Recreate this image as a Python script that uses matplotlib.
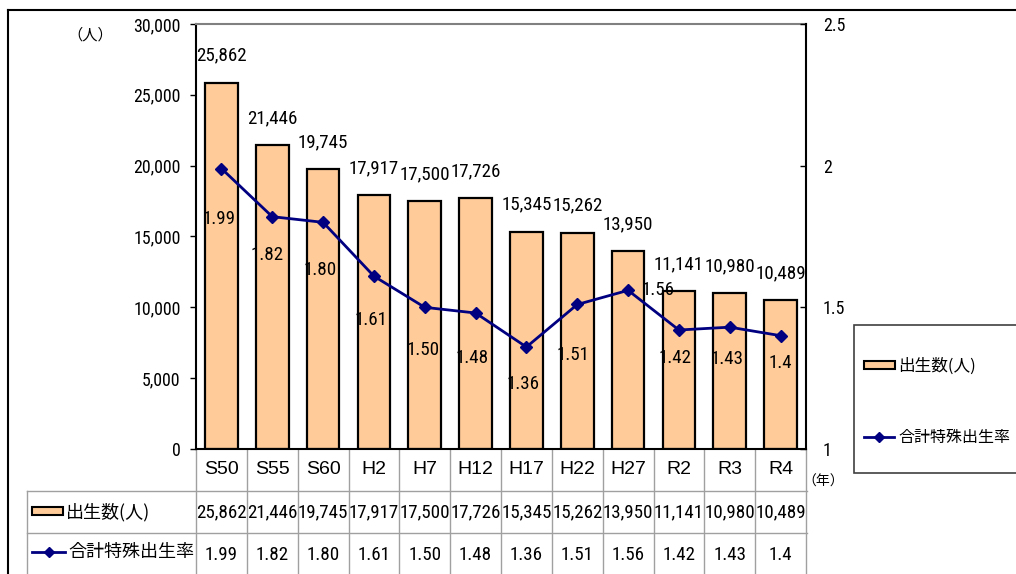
import matplotlib
matplotlib.use('Agg')
import matplotlib.pyplot as plt
from matplotlib import font_manager as fm
from matplotlib.font_manager import FontProperties
from matplotlib.transforms import blended_transform_factory
from matplotlib.patches import Rectangle

# ---- data ----
categories = ['S50', 'S55', 'S60', 'H2', 'H7', 'H12', 'H17', 'H22', 'H27', 'R2', 'R3', 'R4']
births = [25862, 21446, 19745, 17917, 17500, 17726, 15345, 15262, 13950, 11141, 10980, 10489]
tfr = [1.99, 1.82, 1.80, 1.61, 1.50, 1.48, 1.36, 1.51, 1.56, 1.42, 1.43, 1.4]
tfr_text = ['1.99', '1.82', '1.80', '1.61', '1.50', '1.48', '1.36', '1.51', '1.56', '1.42', '1.43', '1.4']
left_ticks = [0, 5000, 10000, 15000, 20000, 25000, 30000]
right_ticks = [1, 1.5, 2, 2.5]
right_tick_text = ['1', '1.5', '2', '2.5']
births_name = '出生数(人)'
tfr_name = '合計特殊出生率'
unit_left = '（人）'
unit_bottom = '（年）'

# label placement (pixel offsets, styling only)
tfr_dx = [-2, -5, -3, -3, -2, -3, -3, -4, 30, -4, -3, 0]
tfr_dy = [-50, -38, -48, -44, -43, -45, -37, -50, 0, -28, -32, -27]


# ---- pick a narrow font file if available ----
def _is_regular(f):
    return f.style == 'normal' and str(f.weight).lower() in ('400', 'normal', 'regular', 'book')


def pick_narrow():
    fl = fm.fontManager.ttflist
    prefs = [
        lambda f: f.name == 'Liberation Sans Narrow',
        lambda f: f.name == 'Roboto Condensed',
        lambda f: f.name.startswith('DejaVu Sans') and 'ondensed' in (f.fname + f.stretch) and 'Mono' not in f.name,
        lambda f: f.name.startswith('Noto Sans') and 'ondensed' in (f.fname + str(f.stretch)) and 'Extra' not in f.fname and 'Semi' not in f.fname,
        lambda f: 'Narrow' in f.name or 'Condensed' in f.name,
        lambda f: str(f.stretch) in ('condensed', 'semi-condensed'),
    ]
    for p in prefs:
        cands = [f for f in fl if _is_regular(f) and p(f)]
        if cands:
            return FontProperties(fname=cands[0].fname)
    return FontProperties(family='Liberation Sans')


NARROW_BASE = pick_narrow()
SANS = 'Liberation Sans'
CJK = ['Noto Sans CJK JP', 'DejaVu Sans']

BAR = '#FFCC99'
NAVY = '#000080'
GRID = '#A0A0A0'

W, H = 1016, 574
fig = plt.figure(figsize=(W / 100, H / 100), dpi=100)
renderer = fig.canvas.get_renderer()


def fitted(sample, target_px):
    fp = NARROW_BASE.copy()
    fp.set_size(10)
    t = fig.text(0, 0, sample, fontproperties=fp)
    w = t.get_window_extent(renderer=renderer).width
    t.remove()
    fp = NARROW_BASE.copy()
    fp.set_size(10 * target_px / w)
    return fp


fp_tick = fitted('30,000', 47)
fp_label = fitted('25,862', 50)
fp_rate = fitted('1.99', 33)
fp_table = fitted('25,862', 50)

# overlay axes in pixel coordinates
ov = fig.add_axes([0, 0, 1, 1], zorder=-1)
ov.set_xlim(0, W)
ov.set_ylim(H, 0)
ov.axis('off')
ov.patch.set_visible(False)

L, R, T, B = 196, 806, 24, 449
ax = fig.add_axes([L / W, 1 - B / H, (R - L) / W, (B - T) / H])
x = list(range(len(categories)))
ax.bar(x, births, width=0.64, color=BAR, edgecolor='black', linewidth=1.6, zorder=2)
ax.set_xlim(-0.5, len(categories) - 0.5)
ax.set_ylim(0, 30000)
ax.set_yticks(left_ticks)
ax.set_yticklabels([f'{v:,}' for v in left_ticks], fontproperties=fp_tick)
ax.tick_params(axis='y', direction='out', length=4, width=1, pad=7)
ax.set_xticks([])
ax.spines['top'].set_color('#808080')
ax.spines['top'].set_linewidth(1.5)
ax.spines['right'].set_visible(False)
ax.spines['left'].set_linewidth(1.5)
ax.spines['bottom'].set_linewidth(1.5)

for i, v in enumerate(births):
    ax.annotate(f'{v:,}', (i, v), xytext=(0, 27), textcoords='offset pixels',
                ha='center', va='center', fontproperties=fp_label)

ax2 = ax.twinx()
ax2.plot(x, tfr, color=NAVY, linewidth=2, marker='D', markersize=6.5, zorder=3)
ax2.set_ylim(1, 2.5)
ax2.set_yticks(right_ticks)
ax2.set_yticklabels(right_tick_text, fontproperties=fp_tick)
ax2.tick_params(axis='y', direction='in', length=4, width=1, pad=12)
for s in ['top', 'left', 'bottom']:
    ax2.spines[s].set_visible(False)
ax2.spines['right'].set_linewidth(1.5)

for i, v in enumerate(tfr):
    ax2.annotate(tfr_text[i], (i, v), xytext=(tfr_dx[i], tfr_dy[i]), textcoords='offset pixels',
                 ha='center', va='center', fontproperties=fp_rate)

# ---- figure frame ----
ov.plot([8, 8], [10, H + 5], color='black', lw=1.5)
ov.plot([8, W + 5], [10, 10], color='black', lw=1.5)

# ---- units ----
ov.text(90, 35, unit_left, ha='center', va='center', family=CJK, fontsize=11)
ov.text(823, 482, unit_bottom, ha='center', va='center', family=CJK, fontsize=10)

# ---- data table ----
tr = blended_transform_factory(ax.transData, ov.transData)
row1, row2, row3, row4 = 449, 491, 533, 580
for i in range(len(categories) + 1):
    ov.plot([i - 0.5, i - 0.5], [row1, row4], color=GRID, lw=1, transform=tr)
ov.plot([27, R + 1], [row2, row2], color=GRID, lw=1)
ov.plot([27, R + 1], [row3, row3], color=GRID, lw=1)
ov.plot([27, 27], [row2, row4], color=GRID, lw=1)
for i, c in enumerate(categories):
    ov.text(i, 470, c, transform=tr, ha='center', va='center', fontfamily=SANS, fontsize=14)
    ov.text(i, 512, f'{births[i]:,}', transform=tr, ha='center', va='center',
            fontproperties=fp_table)
    ov.text(i, 555, tfr_text[i], transform=tr, ha='center', va='center',
            fontproperties=fp_table)

ov.add_patch(Rectangle((32, 507), 31, 8, facecolor=BAR, edgecolor='black', lw=1.5))
ov.text(66, 512, births_name, ha='left', va='center', family=CJK, fontsize=13)
ov.plot([32, 65], [552, 552], color=NAVY, lw=2)
ov.plot([48.5], [552], marker='D', color=NAVY, markersize=5)
ov.text(68, 552, tfr_name, ha='left', va='center', family=CJK, fontsize=13)

# ---- legend ----
ov.add_patch(Rectangle((854, 325), 180, 148, facecolor='white', edgecolor='#404040', lw=1.2))
ov.add_patch(Rectangle((864, 361), 31, 8, facecolor=BAR, edgecolor='black', lw=1.5))
ov.text(898, 366, births_name, ha='left', va='center', family=CJK, fontsize=12)
ov.plot([864, 894], [437, 437], color=NAVY, lw=2)
ov.plot([879], [437], marker='D', color=NAVY, markersize=5)
ov.text(898, 437, tfr_name, ha='left', va='center', family=CJK, fontsize=11.5)

fig.savefig('out.png', dpi=100)
